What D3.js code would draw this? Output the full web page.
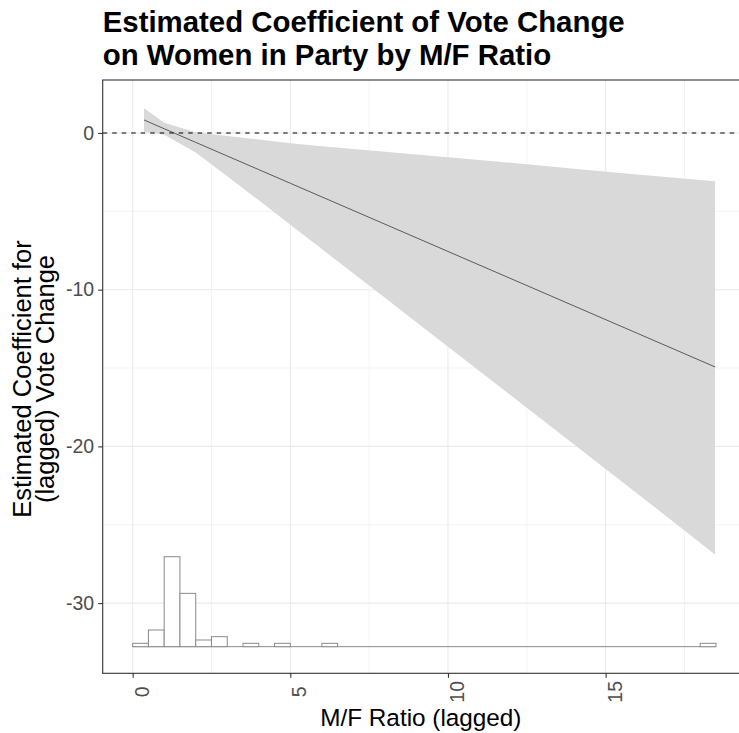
<html>
<head>
<script src="https://d3js.org/d3.v7.min.js"></script>
<style>
  body { margin: 0; background: #fff; }
  text { font-family: "Liberation Sans", Arial, sans-serif; }
</style>
</head>
<body>
<svg id="chart" width="739" height="733"></svg>
<script>
// fitted marginal effect and its confidence band
const ratioX = [0.36, 1, 2, 3, 4, 5, 6, 8, 10, 12, 14, 16, 18.47];
const fitY   = [0.83, 0.27, -0.60, -1.47, -2.34, -3.21, -4.08, -5.82, -7.56, -9.30, -11.04, -12.78, -14.93];
const lowerY = [0.08, -0.11, -1.25, -2.76, -4.30, -5.85, -7.41, -10.52, -13.64, -16.76, -19.88, -23.00, -26.90];
const upperY = [1.58, 0.65, 0.05, -0.20, -0.42, -0.65, -0.85, -1.20, -1.55, -1.90, -2.28, -2.65, -3.08];

// histogram of the moderator (bins of width 0.5 starting at 0)
const binWidth = 0.5;
const histCounts = [1, 5, 27, 16, 2, 3, 0, 1, 0, 1, 0, 0, 1, 0, 0, 0, 0, 0, 0, 0,
                    0, 0, 0, 0, 0, 0, 0, 0, 0, 0, 0, 0, 0, 0, 0, 0, 1];

const xTicks = [0, 5, 10, 15];
const xMinor = [2.5, 7.5, 12.5, 17.5];
const yTicks = [0, -10, -20, -30];
const yMinor = [-5, -15, -25];

const svg = d3.select('svg#chart');
const pLeft = 102.7, pRight = 745, pTop = 80, pBottom = 673.3;

const x = d3.scaleLinear().domain([-0.95, 19.42]).range([pLeft, pRight]);
const y = d3.scaleLinear().domain([3.38, -34.48]).range([pTop, pBottom]);

// histogram sits on the bottom of the data range
const histBase = -32.78;
const histUnit = 0.2126;

svg.append('defs').append('clipPath').attr('id', 'clip')
   .append('rect').attr('x', pLeft).attr('y', pTop)
   .attr('width', pRight - pLeft).attr('height', pBottom - pTop);

const panel = svg.append('g').attr('clip-path', 'url(#clip)');

// grid
panel.selectAll('line.vminor').data(xMinor).join('line')
     .attr('class', 'vminor')
     .attr('x1', d => x(d)).attr('x2', d => x(d)).attr('y1', pTop).attr('y2', pBottom)
     .attr('stroke', '#ebebeb').attr('stroke-width', 0.6);
panel.selectAll('line.hminor').data(yMinor).join('line')
     .attr('class', 'hminor')
     .attr('y1', d => y(d)).attr('y2', d => y(d)).attr('x1', pLeft).attr('x2', pRight)
     .attr('stroke', '#ebebeb').attr('stroke-width', 0.6);
panel.selectAll('line.vmajor').data(xTicks).join('line')
     .attr('class', 'vmajor')
     .attr('x1', d => x(d)).attr('x2', d => x(d)).attr('y1', pTop).attr('y2', pBottom)
     .attr('stroke', '#ebebeb').attr('stroke-width', 1.1);
panel.selectAll('line.hmajor').data(yTicks).join('line')
     .attr('class', 'hmajor')
     .attr('y1', d => y(d)).attr('y2', d => y(d)).attr('x1', pLeft).attr('x2', pRight)
     .attr('stroke', '#ebebeb').attr('stroke-width', 1.1);

const band = ratioX.map((v, i) => ({x: v, fit: fitY[i], lo: lowerY[i], hi: upperY[i]}));

panel.append('path').datum(band)
     .attr('fill', '#d9d9d9')
     .attr('d', d3.area().x(d => x(d.x)).y0(d => y(d.lo)).y1(d => y(d.hi)));

panel.append('path').datum(band)
     .attr('fill', 'none').attr('stroke', '#3a3a3a').attr('stroke-width', 0.8)
     .attr('d', d3.line().x(d => x(d.x)).y(d => y(d.fit)));

// zero reference
panel.append('line')
     .attr('x1', pLeft).attr('x2', pRight).attr('y1', y(0)).attr('y2', y(0))
     .attr('stroke', '#000').attr('stroke-width', 1.1).attr('stroke-dasharray', '4.5,5');

// histogram
const bins = histCounts.map((c, i) => ({x0: i * binWidth, x1: (i + 1) * binWidth, n: c}));
panel.append('line')
     .attr('x1', x(0)).attr('x2', x(histCounts.length * binWidth))
     .attr('y1', y(histBase)).attr('y2', y(histBase))
     .attr('stroke', '#8a8a8a').attr('stroke-width', 1);
panel.selectAll('rect.bin').data(bins.filter(d => d.n > 0)).join('rect')
     .attr('class', 'bin')
     .attr('x', d => x(d.x0)).attr('width', d => x(d.x1) - x(d.x0))
     .attr('y', d => y(histBase + d.n * histUnit))
     .attr('height', d => y(histBase) - y(histBase + d.n * histUnit))
     .attr('fill', '#fff').attr('stroke', '#8a8a8a').attr('stroke-width', 1);

// panel border
svg.append('rect').attr('x', pLeft).attr('y', pTop)
   .attr('width', pRight - pLeft).attr('height', pBottom - pTop)
   .attr('fill', 'none').attr('stroke', '#333').attr('stroke-width', 1.1);

// axes
const yAxis = svg.append('g').attr('transform', `translate(${pLeft},0)`)
   .call(d3.axisLeft(y).tickValues(yTicks).tickSize(4.5).tickPadding(4).tickFormat(d => String(d)));
const xAxis = svg.append('g').attr('transform', `translate(0,${pBottom})`)
   .call(d3.axisBottom(x).tickValues(xTicks).tickSize(4.5).tickFormat(d => String(d)));
[yAxis, xAxis].forEach(a => {
    a.select('.domain').remove();
    a.selectAll('line').attr('stroke', '#333').attr('stroke-width', 1.1);
    a.selectAll('text').attr('fill', '#4d4d4d').style('font-size', '19.5px')
     .style('font-family', '"Liberation Sans", Arial, sans-serif');
});
xAxis.selectAll('text')
     .attr('text-anchor', 'middle')
     .attr('dy', null).attr('y', null)
     .attr('transform', 'translate(15.5,18.5) rotate(-90)');

// titles
svg.append('text').attr('x', pLeft).attr('y', 32)
   .style('font-size', '29.4px').style('font-weight', 'bold').attr('fill', '#000')
   .text('Estimated Coefficient of Vote Change');
svg.append('text').attr('x', pLeft).attr('y', 65)
   .style('font-size', '29.4px').style('font-weight', 'bold').attr('fill', '#000')
   .text('on Women in Party by M/F Ratio');

svg.append('text').attr('x', (pLeft + pRight) / 2 - 3).attr('y', 726)
   .attr('text-anchor', 'middle').style('font-size', '24.3px').attr('fill', '#000')
   .text('M/F Ratio (lagged)');

const yTitle = svg.append('g').attr('transform', 'translate(31,379) rotate(-90)');
yTitle.append('text').attr('text-anchor', 'middle').attr('y', 0)
      .style('font-size', '25.5px').attr('fill', '#000').text('Estimated Coefficient for');
yTitle.append('text').attr('text-anchor', 'middle').attr('y', 23)
      .style('font-size', '25.5px').attr('fill', '#000').text('(lagged) Vote Change');
</script>
</body>
</html>
